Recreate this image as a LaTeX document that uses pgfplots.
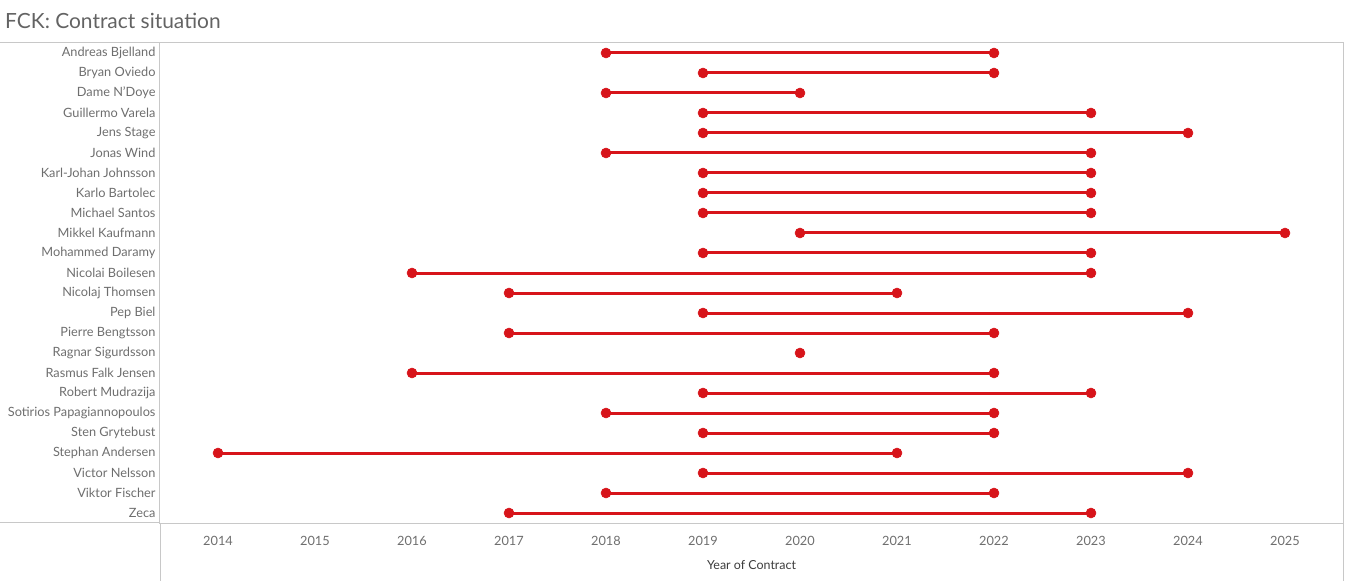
\documentclass[border=0pt]{standalone}
\usepackage{pgfplots}
\pgfplotsset{compat=1.18}
\usepackage{fontspec}
\setmainfont{Lato}
\definecolor{fckred}{HTML}{D7141A}
\definecolor{txtgray}{HTML}{6E6E6E}
\definecolor{framegray}{HTML}{C8C8C8}

% start/end year of each contract, one row per player (nan = break)
\pgfplotstableread{
x y
2018 0
2022 0
nan nan
2019 1
2022 1
nan nan
2018 2
2020 2
nan nan
2019 3
2023 3
nan nan
2019 4
2024 4
nan nan
2018 5
2023 5
nan nan
2019 6
2023 6
nan nan
2019 7
2023 7
nan nan
2019 8
2023 8
nan nan
2020 9
2025 9
nan nan
2019 10
2023 10
nan nan
2016 11
2023 11
nan nan
2017 12
2021 12
nan nan
2019 13
2024 13
nan nan
2017 14
2022 14
nan nan
2020 15
nan nan
2016 16
2022 16
nan nan
2019 17
2023 17
nan nan
2018 18
2022 18
nan nan
2019 19
2022 19
nan nan
2014 20
2021 20
nan nan
2019 21
2024 21
nan nan
2018 22
2022 22
nan nan
2017 23
2023 23
}\contracts

\begin{document}
\begin{tikzpicture}[x=1bp,y=1bp]
\useasboundingbox (-160,-58) rectangle (1185,523);
\node[anchor=west, inner sep=0, text=txtgray!90!black,
  font=\fontsize{21}{25}\selectfont] at (-155,502) {FCK: Contract situation};
\begin{axis}[
  name=ax,
  at={(0,0)}, anchor=south west,
  scale only axis, width=1183bp, height=480bp,
  xmin=2013.402, xmax=2025.598,
  ymin=-0.5, ymax=23.5, y dir=reverse,
  axis line style={framegray, line width=1bp},
  xtick={2014,...,2025}, ytick={0,...,23},
  yticklabels={Andreas Bjelland, Bryan Oviedo, Dame N'Doye, Guillermo Varela,
    Jens Stage, Jonas Wind, Karl-Johan Johnsson, Karlo Bartolec, Michael Santos,
    Mikkel Kaufmann, Mohammed Daramy, Nicolai Boilesen, Nicolaj Thomsen, Pep Biel,
    Pierre Bengtsson, Ragnar Sigurdsson, Rasmus Falk Jensen, Robert Mudrazija,
    Sotirios Papagiannopoulos, Sten Grytebust, Stephan Andersen, Victor Nelsson,
    Viktor Fischer, Zeca},
  tick style={draw=none},
  /pgf/number format/1000 sep={},
  /pgf/number format/assume math mode=true,
  ticklabel style={font=\fontsize{12.8}{14}\selectfont, text=txtgray},
  yticklabel style={anchor=east, xshift=-1bp},
  xticklabel style={anchor=center, yshift=-18bp},
  xlabel={Year of Contract},
  xlabel style={at={(axis description cs:0.5,0)}, anchor=center, yshift=-42bp,
    font=\fontsize{12.5}{14}\selectfont, text=txtgray!55!black},
  clip=false,
]
\addplot[fckred, line width=3bp, mark=*, mark size=5bp,
  mark options={solid, fill=fckred, draw=fckred, line width=0.5bp},
  unbounded coords=jump] table[x=x, y=y] {\contracts};
\end{axis}
\draw[framegray, line width=1bp] (ax.north west) -- ++(-160,0);
\draw[framegray, line width=1bp] (ax.south west) -- ++(-160,0);
\draw[framegray, line width=1bp] (ax.south west) -- ++(0,-58);
\draw[framegray, line width=1bp] (ax.south east) -- ++(0,-58);
\end{tikzpicture}
\end{document}
